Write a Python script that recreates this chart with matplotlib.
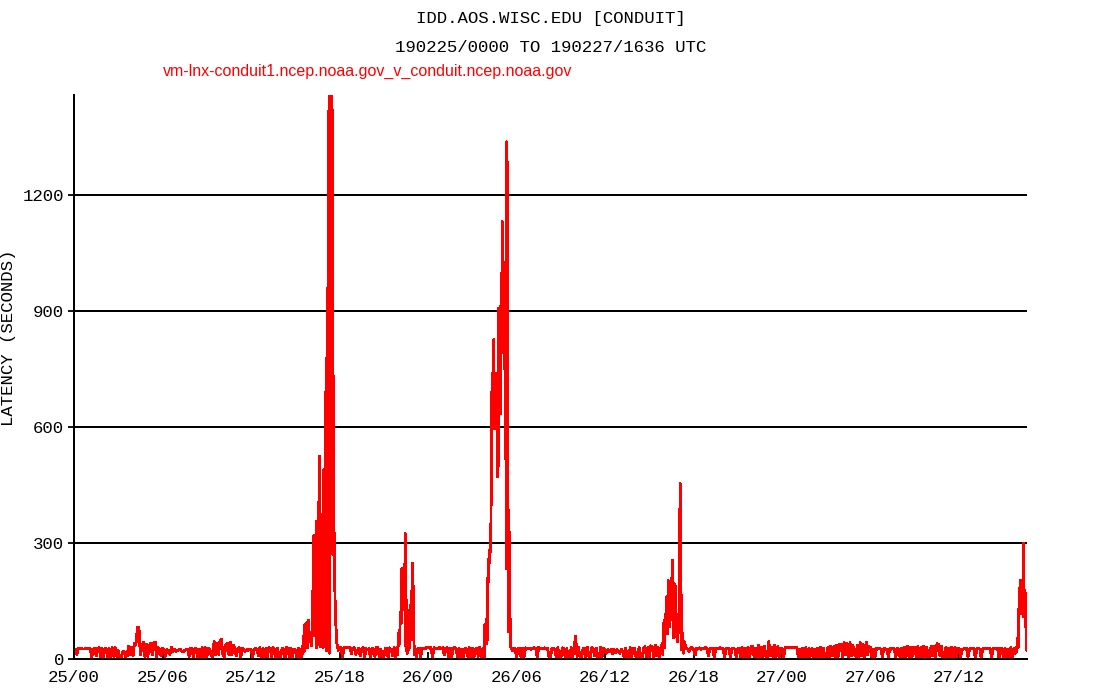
import numpy as np
import matplotlib
matplotlib.use("Agg")
import matplotlib.pyplot as plt

TITLE = "IDD.AOS.WISC.EDU [CONDUIT]"
SUBTITLE = "190225/0000 TO 190227/1636 UTC"
SERIES_NAME = "vm-lnx-conduit1.ncep.noaa.gov_v_conduit.ncep.noaa.gov"
Y_LABEL = "LATENCY (SECONDS)"

x_tick_hours = [0, 6, 12, 18, 24, 30, 36, 42, 48, 54, 60]
x_tick_labels = ["25/00", "25/06", "25/12", "25/18", "26/00", "26/06",
                 "26/12", "26/18", "27/00", "27/06", "27/12"]
y_ticks = [0, 300, 600, 900, 1200]
y_tick_labels = ["0", "300", "600", "900", "1200"]
end_hour = 64.6          # 190227/1636
y_max = 1460

# background latency, one value every 0.1 h (one row per hour, 0..64)
baseline_step = 0.1
baseline_values = [
    24, 26, 12, 27, 27, 27, 26, 26, 28, 27,
    27, 26, 4, 26, 28, 8, 27, 30, 5, 28,
    5, 28, 24, 3, 27, 3, 29, 6, 30, 6,
    22, 4, 2, 18, 20, 6, 8, 34, 12, 30,
    8, 40, 38, 82, 82, 10, 30, 44, 6, 38,
    6, 36, 40, 10, 42, 44, 4, 30, 26, 8,
    28, 24, 7, 25, 22, 12, 30, 18, 26, 20,
    22, 24, 26, 20, 18, 22, 24, 25, 6, 28,
    27, 3, 28, 25, 5, 26, 5, 29, 2, 30,
    4, 28, 26, 8, 5, 46, 10, 40, 12, 48,
    50, 8, 6, 38, 40, 12, 44, 10, 36, 28,
    8, 26, 30, 4, 28, 26, 20, 24, 22, 26,
    26, 5, 22, 28, 24, 8, 30, 3, 27, 4,
    27, 3, 29, 28, 6, 30, 25, 2, 28, 6,
    4, 27, 26, 2, 30, 27, 5, 28, 3, 26,
    24, 3, 28, 6, 20, 20, 20, 20, 20, 20,
    20, 20, 20, 20, 20, 20, 20, 20, 20, 20,
    20, 20, 20, 20, 20, 20, 20, 20, 20, 20,
    28, 30, 5, 30, 29, 30, 29, 30, 14, 28,
    30, 12, 22, 28, 8, 26, 30, 4, 27, 25,
    27, 3, 28, 25, 6, 30, 29, 2, 26, 5,
    5, 28, 27, 2, 29, 24, 8, 30, 3, 26,
    20, 20, 20, 20, 20, 20, 20, 20, 20, 20,
    20, 20, 20, 20, 28, 6, 27, 28, 26, 30,
    30, 28, 29, 4, 29, 27, 28, 27, 30, 26,
    29, 10, 28, 30, 3, 28, 5, 27, 30, 28,
    5, 27, 3, 26, 2, 28, 26, 6, 29, 4,
    28, 3, 25, 28, 7, 30, 4, 27, 2, 28,
    20, 20, 20, 20, 20, 20, 20, 20, 20, 20,
    20, 20, 20, 20, 20, 20, 20, 20, 26, 28,
    4, 28, 27, 6, 27, 3, 29, 28, 27, 28,
    25, 28, 29, 27, 5, 30, 26, 28, 27, 29,
    26, 27, 5, 4, 28, 27, 24, 3, 29, 6,
    3, 29, 28, 5, 27, 4, 2, 30, 6, 28,
    60, 6, 30, 5, 3, 26, 28, 4, 30, 6,
    5, 29, 27, 8, 28, 3, 4, 30, 6, 27,
    22, 15, 25, 18, 24, 14, 26, 16, 24, 20,
    14, 26, 18, 4, 28, 6, 2, 30, 4, 27,
    27, 5, 3, 30, 6, 3, 26, 32, 5, 30,
    6, 34, 30, 4, 36, 8, 30, 5, 28, 20,
    20, 20, 20, 20, 20, 20, 20, 20, 20, 20,
    20, 20, 20, 20, 20, 28, 26, 20, 28, 30,
    26, 10, 28, 27, 29, 25, 28, 26, 30, 27,
    8, 27, 26, 28, 4, 28, 27, 26, 29, 27,
    27, 2, 28, 26, 27, 3, 28, 27, 26, 1,
    27, 28, 5, 30, 4, 28, 6, 30, 3, 32,
    32, 6, 28, 3, 36, 5, 30, 4, 34, 8,
    5, 45, 8, 30, 2, 36, 6, 32, 3, 28,
    28, 2, 30, 30, 30, 30, 30, 30, 30, 30,
    30, 3, 26, 5, 28, 4, 29, 3, 27, 6,
    27, 3, 25, 6, 28, 2, 30, 5, 28, 4,
    4, 30, 6, 34, 8, 32, 4, 36, 6, 38,
    38, 5, 44, 10, 40, 6, 42, 8, 36, 12,
    6, 36, 4, 42, 8, 38, 5, 44, 10, 32,
    30, 3, 26, 5, 28, 26, 27, 25, 6, 28,
    26, 24, 6, 27, 25, 28, 26, 4, 27, 26,
    4, 28, 3, 30, 6, 32, 5, 30, 3, 31,
    29, 5, 32, 4, 30, 6, 33, 3, 31, 5,
    6, 34, 8, 32, 5, 40, 38, 8, 33, 4,
    5, 30, 3, 28, 6, 31, 4, 29, 5, 28,
    27, 4, 25, 26, 28, 27, 5, 26, 27, 28,
    26, 3, 27, 28, 26, 2, 27, 28, 27, 26,
    27, 26, 4, 28, 27, 26, 28, 3, 27, 28,
    5, 28, 3, 26, 6, 29, 4, 27, 20, 20,
    20, 20, 20, 20, 20, 20, 20,
]

peak1_hours = [15.37, 15.44, 15.51, 15.56, 15.60, 15.65, 15.71, 15.78, 15.83, 15.90,
               15.96, 16.03, 16.10, 16.17, 16.21, 16.24, 16.26, 16.28, 16.30, 16.33,
               16.37, 16.40, 16.42, 16.44, 16.46, 16.48, 16.51, 16.53, 16.55, 16.58,
               16.60, 16.62, 16.64, 16.67, 16.69, 16.71, 16.74, 16.76, 16.78, 16.80,
               16.83, 16.85, 16.87, 16.89, 16.92, 16.94, 16.96, 16.98, 17.01, 17.03,
               17.05, 17.08, 17.10, 17.12, 17.14, 17.17, 17.19, 17.21, 17.23, 17.25,
               17.27, 17.29, 17.31, 17.33, 17.35, 17.37, 17.39, 17.41, 17.43, 17.45,
               17.47, 17.49, 17.51, 17.53, 17.55, 17.57, 17.60, 17.62, 17.64, 17.67,
               17.69, 17.72, 17.76, 17.82, 17.91, 17.98]
peak1_values = [25, 5, 30, 60, 20, 89, 40, 94, 30, 100,
                45, 70, 35, 118, 218, 60, 319, 150, 319, 242,
                60, 233, 90, 30, 357, 120, 41, 300, 240, 50,
                400, 525, 80, 32, 250, 376, 90, 233, 120, 41,
                180, 214, 30, 60, 300, 491, 100, 32, 350, 482,
                200, 779, 300, 22, 600, 894, 400, 961, 482, 1150,
                1420, 200, 15, 1520, 900, 1520, 1459, 800, 440, 1520,
                1520, 1100, 1420, 712, 271, 600, 731, 400, 271, 200,
                166, 120, 80, 41, 22, 30]

peak2_hours = [21.90, 21.95, 22.00, 22.06, 22.13, 22.18, 22.22, 22.26, 22.29, 22.33,
               22.36, 22.40, 22.45, 22.47, 22.49, 22.54, 22.56, 22.59, 22.63, 22.68,
               22.74, 22.78, 22.81, 22.86, 22.88, 22.90, 22.95, 22.99, 23.02, 23.04,
               23.08, 23.15, 23.22, 23.31]
peak2_values = [30, 12, 66, 40, 122, 92, 234, 140, 234, 150,
                234, 127, 325, 90, 32, 153, 20, 15, 127, 23,
                32, 60, 101, 174, 60, 49, 247, 183, 90, 49,
                10, 25, 5, 28]

peak3_hours = [27.85, 27.90, 27.96, 28.00, 28.04, 28.07, 28.09, 28.11, 28.14, 28.18,
               28.23, 28.26, 28.28, 28.30, 28.32, 28.35, 28.37, 28.39, 28.41, 28.44,
               28.46, 28.48, 28.51, 28.53, 28.55, 28.57, 28.59, 28.62, 28.64, 28.66,
               28.69, 28.71, 28.73, 28.75, 28.78, 28.80, 28.82, 28.84, 28.87, 28.89,
               28.91, 28.93, 28.96, 28.98, 29.00, 29.02, 29.05, 29.07, 29.09, 29.12,
               29.14, 29.16, 29.19, 29.21, 29.23, 29.25, 29.27, 29.30, 29.32, 29.34,
               29.37, 29.39, 29.41, 29.44, 29.46, 29.48, 29.50, 29.52, 29.55, 29.57,
               29.61, 29.71]
peak3_values = [89, 41, 103, 41, 150, 252, 200, 242, 281, 250,
                300, 350, 420, 600, 693, 620, 597, 740, 650, 597,
                827, 700, 654, 720, 597, 680, 717, 600, 654, 740,
                560, 472, 700, 908, 620, 501, 780, 654, 800, 913,
                700, 635, 850, 999, 900, 1133, 900, 999, 850, 1028,
                900, 942, 750, 827, 950, 1028, 600, 233, 1339, 1200,
                1287, 444, 252, 70, 200, 386, 250, 329, 150, 60,
                32, 22]

peak4_hours = [39.86, 39.91, 39.98, 40.02, 40.05, 40.09, 40.14, 40.18, 40.23, 40.27,
               40.32, 40.36, 40.41, 40.45, 40.50, 40.55, 40.59, 40.64, 40.68, 40.73,
               40.77, 40.82, 40.86, 40.91, 40.95, 41.00, 41.04, 41.09, 41.14, 41.16,
               41.20, 41.25, 41.32, 41.38, 41.45]
peak4_values = [40, 12, 93, 30, 101, 66, 144, 161, 66, 204,
                196, 84, 170, 101, 144, 256, 256, 55, 196, 122,
                188, 58, 101, 45, 66, 101, 277, 454, 424, 24,
                32, 66, 15, 45, 32]

peak5_hours = [63.80, 63.85, 63.90, 63.95, 64.00, 64.04, 64.07, 64.10, 64.14, 64.18,
               64.22, 64.25, 64.29, 64.32, 64.35, 64.38, 64.42, 64.45, 64.49, 64.53,
               64.56, 64.60]
peak5_values = [15, 30, 19, 54, 30, 101, 183, 135, 204, 118,
                187, 144, 191, 150, 299, 109, 161, 178, 84, 170,
                23, 62]

# ---- assemble series ----
peaks_h = [peak1_hours, peak2_hours, peak3_hours, peak4_hours, peak5_hours]
peaks_v = [peak1_values, peak2_values, peak3_values, peak4_values, peak5_values]
bt = np.arange(len(baseline_values)) * baseline_step
bv = np.array(baseline_values, dtype=float)
keep = bt <= end_hour + 1e-9
for ph in peaks_h:
    keep &= ~((bt >= min(ph) - 1e-9) & (bt <= max(ph) + 1e-9))
t = np.concatenate([bt[keep]] + [np.array(p, float) for p in peaks_h])
v = np.concatenate([bv[keep]] + [np.array(p, float) for p in peaks_v])
order = np.argsort(t, kind="stable")
t, v = t[order], v[order]

# ---- figure ----
W, H = 1100, 700
fig = plt.figure(figsize=(W / 100, H / 100), dpi=100)
ax_l, ax_r, ax_t, ax_b = 74, 1027, 95, 659
ax = fig.add_axes([ax_l / W, 1 - ax_b / H, (ax_r - ax_l) / W, (ax_b - ax_t) / H])

mono = "Liberation Mono"
fs = 12.5

ax.plot(t, v, color="#ff0000", lw=1.3, zorder=3, antialiased=False)
ax.set_xlim(0, end_hour)
ax.set_ylim(0, y_max)

ax.set_yticks(y_ticks)
ax.set_yticklabels(y_tick_labels, fontfamily=mono, fontsize=fs)
ax.set_xticks(x_tick_hours)
ax.set_xticklabels(x_tick_labels, fontfamily=mono, fontsize=fs)
ax.yaxis.grid(True, color="black", lw=1.3, zorder=1, antialiased=False)
ax.set_axisbelow(True)

for s in ["top", "right"]:
    ax.spines[s].set_visible(False)
for s in ["left", "bottom"]:
    ax.spines[s].set_color("black")
    ax.spines[s].set_linewidth(1.3)
    ax.spines[s].set_zorder(4)
    ax.spines[s].set_antialiased(False)

ax.tick_params(axis="x", direction="in", length=5, width=1.3, pad=8, colors="black")
ax.tick_params(axis="y", direction="out", length=4, width=1.3, pad=3, colors="black")

ax.set_ylabel(Y_LABEL, fontfamily=mono, fontsize=fs, va="center", ha="center")
ax.yaxis.set_label_coords((9 - ax_l) / (ax_r - ax_l), (ax_b - 338) / (ax_b - ax_t))

cx = (ax_l + ax_r) / 2 / W
fig.text(cx, 1 - 19 / H, TITLE, ha="center", va="center", fontfamily=mono, fontsize=fs)
fig.text(cx, 1 - 47 / H, SUBTITLE, ha="center", va="center", fontfamily=mono, fontsize=fs)
fig.text(163 / W, 1 - 71 / H, SERIES_NAME, ha="left", va="center",
         fontfamily="Liberation Sans", fontsize=11.5, color="#ff0000")

fig.savefig("out.png", dpi=100)
